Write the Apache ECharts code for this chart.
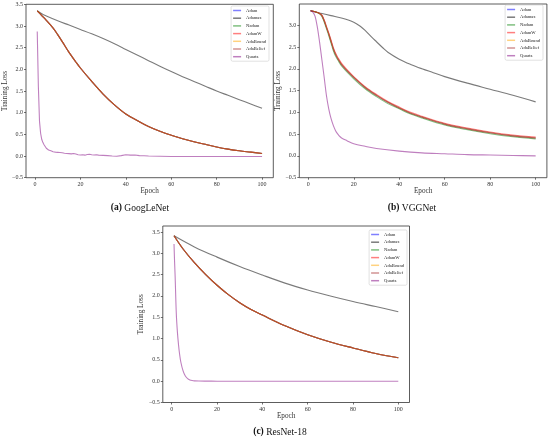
<!DOCTYPE html>
<html>
<head>
<meta charset="utf-8">
<script src="https://cdn.jsdelivr.net/npm/echarts@6/dist/echarts.min.js"></script>
<style>html, body { margin: 0; padding: 0; background: #fff; }</style>
</head>
<body>
<div id="main" style="width: 550px; height: 441px;"></div>
<script type="text/javascript">

var names = ['Adam', 'Adamax', 'Nadam', 'AdamW', 'AdaBound', 'AdaBelief', 'Quartz'];
var colors = ['rgba(0,0,255,0.5)', 'rgba(0,0,0,0.52)', 'rgba(0,128,0,0.5)', 'rgba(255,0,0,0.5)',
              'rgba(255,165,0,0.5)', 'rgba(165,42,42,0.5)', 'rgba(128,0,128,0.5)'];
var captions = ['(a)', '(b)', '(c)'];
var nets = ['GoogLeNet', 'VGGNet', 'ResNet-18'];

var xTicks = [0, 20, 40, 60, 80, 100];
var yTicksA = [-0.5, 0, 0.5, 1, 1.5, 2, 2.5, 3, 3.5];
var yTicksB = [-0.5, 0, 0.5, 1, 1.5, 2, 2.5, 3];
var yTicksC = [-0.5, 0, 0.5, 1, 1.5, 2, 2.5, 3, 3.5];

// (a) GoogLeNet
var gAdamEp = [1, 3, 5, 8, 10, 12, 15, 18, 20, 25, 30, 35, 40, 45, 50, 55, 60, 65, 70, 75, 80, 85, 90, 95, 100];
var gAdam = [3.35, 3.24, 3.13, 2.95, 2.8, 2.64, 2.39, 2.17, 2.03, 1.72, 1.43, 1.18, 0.97, 0.82, 0.68, 0.57, 0.48, 0.40, 0.33, 0.27, 0.21, 0.16, 0.12, 0.09, 0.06];
var gMaxEp = [1, 3, 5, 10, 15, 20, 25, 30, 35, 40, 45, 50, 55, 60, 65, 70, 75, 80, 85, 90, 95, 100];
var gMax = [3.35, 3.28, 3.23, 3.12, 3.02, 2.92, 2.82, 2.71, 2.59, 2.46, 2.33, 2.2, 2.07, 1.95, 1.83, 1.72, 1.61, 1.5, 1.4, 1.3, 1.2, 1.1];
var gQuartzEp = [1, 1.5, 2, 2.5, 3, 3.5, 4, 5, 6, 7, 8, 9, 10, 11, 12, 13, 14, 15, 16, 17, 18, 19, 20, 21, 22, 23, 24, 25, 26, 27, 28,
                 30, 32, 34, 36, 38, 40, 42, 44, 46, 48, 50, 55, 60, 70, 80, 90, 100];
var gQuartz = [2.87, 1.6, 0.8, 0.52, 0.38, 0.31, 0.26, 0.18, 0.14, 0.12, 0.10, 0.09, 0.085, 0.08, 0.075, 0.065, 0.06, 0.055, 0.05, 0.06,
               0.045, 0.03, 0.025, 0.03, 0.02, 0.035, 0.04, 0.03, 0.025, 0.03, 0.02,
               0.015, 0.01, 0.0, -0.005, 0.01, 0.03, 0.02, 0.025, 0.01, 0.005, 0.0, -0.005, -0.01, -0.01, -0.01, -0.01, -0.01];

// (b) VGGNet
var vAdamEp = [1, 3, 5, 6, 7, 8, 9, 10, 11, 12, 13, 15, 20, 25, 30, 35, 40, 45, 50, 60, 70, 80, 90, 100];
var vAdam = [3.33, 3.31, 3.27, 3.22, 3.1, 2.95, 2.8, 2.63, 2.46, 2.33, 2.23, 2.07, 1.80, 1.57, 1.39, 1.23, 1.10, 0.98, 0.89, 0.73, 0.62, 0.53, 0.46, 0.41];
var vNadam = [3.33, 3.31, 3.26, 3.2, 3.07, 2.92, 2.76, 2.59, 2.42, 2.29, 2.2, 2.04, 1.77, 1.54, 1.36, 1.2, 1.08, 0.96, 0.87, 0.71, 0.60, 0.51, 0.44, 0.39];
var vAdamW = [3.33, 3.31, 3.27, 3.23, 3.12, 2.97, 2.82, 2.66, 2.49, 2.36, 2.26, 2.1, 1.82, 1.59, 1.41, 1.25, 1.12, 1.0, 0.91, 0.75, 0.64, 0.55, 0.48, 0.43];
var vMaxEp = [1, 5, 10, 15, 20, 23, 25, 28, 30, 33, 35, 40, 45, 50, 55, 60, 70, 80, 90, 100];
var vMax = [3.33, 3.28, 3.22, 3.16, 3.07, 2.97, 2.88, 2.72, 2.62, 2.47, 2.38, 2.22, 2.1, 2.0, 1.91, 1.82, 1.67, 1.53, 1.39, 1.24];
var vQuartzEp = [1, 2, 3, 4, 5, 6, 7, 8, 9, 10, 11, 12, 13, 14, 15, 17, 20, 25, 30, 40, 50, 60, 70, 80, 90, 100];
var vQuartz = [3.33, 3.3, 3.2, 2.95, 2.6, 2.2, 1.8, 1.38, 1.08, 0.86, 0.7, 0.58, 0.5, 0.44, 0.4, 0.35, 0.28, 0.22, 0.17, 0.11, 0.07, 0.05, 0.03, 0.02, 0.01, 0.0];

// (c) ResNet-18
var rAdamEp = [1, 5, 10, 15, 20, 25, 30, 35, 40, 50, 60, 70, 80, 90, 100];
var rAdam = [3.41, 3.1, 2.78, 2.5, 2.25, 2.03, 1.84, 1.68, 1.55, 1.3, 1.09, 0.92, 0.78, 0.65, 0.55];
var rMaxEp = [1, 10, 20, 30, 40, 50, 60, 70, 80, 90, 100];
var rMax = [3.41, 3.15, 2.91, 2.69, 2.49, 2.30, 2.14, 2.0, 1.87, 1.75, 1.63];
var rQuartzEp = [1, 1.25, 1.5, 2, 2.5, 3, 3.5, 4, 5, 6, 7, 8, 9, 10, 12, 15, 20, 30, 40, 50, 60, 70, 80, 90, 100];
var rQuartz = [3.22, 2.8, 2.45, 1.6, 1.15, 0.85, 0.62, 0.45, 0.24, 0.12, 0.06, 0.03, 0.015, 0.008, 0.003, 0.001, 0, 0, 0, 0, 0, 0, 0, 0, 0];

// one list per panel, in the order of names
var panelLines = [
    [[gAdamEp, gAdam], [gMaxEp, gMax], [gAdamEp, gAdam], [gAdamEp, gAdam], [gAdamEp, gAdam], [gAdamEp, gAdam], [gQuartzEp, gQuartz]],
    [[vAdamEp, vAdam], [vMaxEp, vMax], [vAdamEp, vNadam], [vAdamEp, vAdamW], [vAdamEp, vAdam], [vAdamEp, vAdam], [vQuartzEp, vQuartz]],
    [[rAdamEp, rAdam], [rMaxEp, rMax], [rAdamEp, rAdam], [rAdamEp, rAdam], [rAdamEp, rAdam], [rAdamEp, rAdam], [rQuartzEp, rQuartz]]
];

var font = "'Liberation Serif', 'Times New Roman', serif";

var grids = [
    { left: 26, top: 4.3, width: 247.3, height: 173.4 },
    { left: 299.3, top: 4, width: 247.6, height: 173.7 },
    { left: 162.8, top: 226, width: 246.7, height: 176.5 }
];
var yMax = [3.5, 3.486, 3.64];
var yTicks = [yTicksA, yTicksB, yTicksC];
var legendPos = [
    { right: 281, top: 6 },
    { right: 7, top: 5 },
    { right: 143, top: 230 }
];
var captionPos = [[140, 208], [412, 208], [280, 432]];

function pts(xs, ys) {
    return xs.map(function (x, i) { return [x, ys[i]]; });
}

var option = {
    animation: false,
    grid: [], xAxis: [], yAxis: [], legend: [], series: [], graphic: []
};

for (var p = 0; p < 3; p++) {
    var g = grids[p];
    option.grid.push({
        left: g.left, top: g.top, width: g.width, height: g.height,
        show: true, borderColor: '#333', borderWidth: 0.8, backgroundColor: '#fff',
        containLabel: false, outerBoundsMode: 'none'
    });
    option.xAxis.push({
        type: 'value', gridIndex: p, min: -3.95, max: 104.95,
        name: 'Epoch', nameLocation: 'middle', nameGap: 10,
        nameTextStyle: { fontFamily: font, fontSize: 7.2, color: '#333' },
        axisLine: { show: false, onZero: false },
        axisTick: { show: true, length: 2, customValues: xTicks, lineStyle: { color: '#333', width: 0.7 } },
        axisLabel: { customValues: xTicks, margin: 3.5, fontFamily: font, fontSize: 6, color: '#333' },
        splitLine: { show: false }
    });
    option.yAxis.push({
        type: 'value', gridIndex: p, min: -0.5, max: yMax[p],
        name: 'Training Loss', nameLocation: 'middle', nameGap: 16,
        nameTextStyle: { fontFamily: font, fontSize: 7.2, color: '#333' },
        axisLine: { show: false, onZero: false },
        axisTick: { show: true, length: 2, customValues: yTicks[p], lineStyle: { color: '#333', width: 0.7 } },
        axisLabel: {
            customValues: yTicks[p], margin: 3, fontFamily: font, fontSize: 6, color: '#333',
            formatter: function (v) { return v.toFixed(1).replace('-', '\u2212'); }
        },
        splitLine: { show: false }
    });
    option.legend.push({
        orient: 'vertical', right: legendPos[p].right, top: legendPos[p].top,
        data: names, selectedMode: false,
        icon: 'rect', itemWidth: 8, itemHeight: 1.5, itemGap: 2.7,
        textStyle: { fontFamily: font, fontSize: 4.6, lineHeight: 5, color: '#222' },
        borderColor: '#ccc', borderWidth: 0.6, borderRadius: 1.5,
        padding: [2, 3, 2, 2], backgroundColor: '#fff'
    });
    for (var s = 0; s < names.length; s++) {
        var line = panelLines[p][s];
        var wiggly = (p === 0 && s === 6);
        option.series.push({
            name: names[s], type: 'line', xAxisIndex: p, yAxisIndex: p,
            data: pts(line[0], line[1]),
            symbol: 'none', showSymbol: false,
            smooth: wiggly ? false : 0.35,
            color: colors[s],
            itemStyle: { color: colors[s] },
            lineStyle: { color: colors[s], width: 1.1 }
        });
    }
    option.graphic.push({
        type: 'text', x: captionPos[p][0], y: captionPos[p][1],
        style: {
            text: '{b|' + captions[p] + '} ' + nets[p],
            fontFamily: font, fontSize: 9.5, fill: '#111',
            align: 'center', verticalAlign: 'middle',
            rich: { b: { fontFamily: font, fontSize: 9.5, fontWeight: 'bold', fill: '#111' } }
        }
    });
}

var chart = echarts.init(document.getElementById('main'));
chart.setOption(option);
</script>
</body>
</html>
